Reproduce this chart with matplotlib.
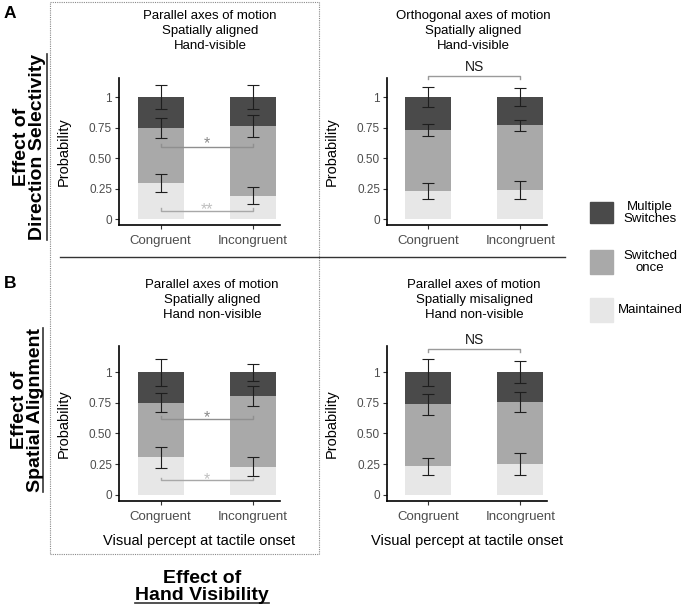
# encoding:utf-8
# stacked probability bars, 2x2 panels + side legend

import numpy as np
import matplotlib
matplotlib.use('Agg')
import matplotlib.pyplot as plt
from matplotlib.patches import Rectangle
from matplotlib.lines import Line2D

plt.rcParams['font.family'] = ['Liberation Sans', 'DejaVu Sans']

categories = ['Congruent', 'Incongruent']
legend_labels = ['Multiple\nSwitches', 'Switched\nonce', 'Maintained']
yticks = [0, 0.25, 0.5, 0.75, 1]
ytick_labels = ['0', '0.25', '0.50', '0.75', '1']

# proportions per segment (Congruent, Incongruent)
maintained_A1 = [0.295, 0.19]
once_A1 = [0.453, 0.57]
multiple_A1 = [0.252, 0.24]
err_A1 = [[0.075, 0.08, 0.10], [0.07, 0.09, 0.095]]

maintained_A2 = [0.23, 0.238]
once_A2 = [0.50, 0.53]
multiple_A2 = [0.27, 0.232]
err_A2 = [[0.067, 0.05, 0.08], [0.07, 0.047, 0.075]]

maintained_B1 = [0.305, 0.23]
once_B1 = [0.447, 0.576]
multiple_B1 = [0.248, 0.194]
err_B1 = [[0.085, 0.08, 0.11], [0.08, 0.083, 0.07]]

maintained_B2 = [0.233, 0.254]
once_B2 = [0.505, 0.503]
multiple_B2 = [0.262, 0.243]
err_B2 = [[0.07, 0.088, 0.11], [0.09, 0.078, 0.09]]

titles = ['Parallel axes of motion\nSpatially aligned\nHand-visible',
          'Orthogonal axes of motion\nSpatially aligned\nHand-visible',
          'Parallel axes of motion\nSpatially aligned\nHand non-visible',
          'Parallel axes of motion\nSpatially misaligned\nHand non-visible']

# significance: (label, y, tip, text y, line colour, text colour)
sig_A1 = [('*', 0.59, 0.025, 0.579, '#8f8f8f', '#8a8a8a'),
          ('**', 0.068, 0.022, 0.039, '#a8a8a8', '#c0c0c0')]
sig_A2 = [('NS', 1.17, -0.025, 1.25, '#9a9a9a', '#1a1a1a')]
sig_B1 = [('*', 0.62, 0.025, 0.594, '#8f8f8f', '#8a8a8a'),
          ('*', 0.117, 0.022, 0.085, '#a8a8a8', '#c0c0c0')]
sig_B2 = [('NS', 1.19, -0.025, 1.265, '#9a9a9a', '#1a1a1a')]

col_multi = '#4a4a4a'
col_once = '#a9a9a9'
col_maint = '#e7e7e7'

W, H = 685, 605
fig = plt.figure(figsize=(W / 100, H / 100), dpi=100)


def px_axes(l, t, r, b):
    return fig.add_axes([l / W, 1 - b / H, (r - l) / W, (b - t) / H])


def draw_panel(ax, maint, once, multi, err, sig, ylim, xlabel=False):
    x = np.arange(1, len(categories) + 1)
    maint = np.array(maint)
    once = np.array(once)
    multi = np.array(multi)
    ax.bar(x, maint, width=0.5, color=col_maint, edgecolor='none')
    ax.bar(x, once, bottom=maint, width=0.5, color=col_once, edgecolor='none')
    ax.bar(x, multi, bottom=maint + once, width=0.5, color=col_multi, edgecolor='none')
    tops = [maint, maint + once, maint + once + multi]
    for k in range(3):
        e = [err[i][k] for i in range(len(x))]
        ax.errorbar(x, tops[k], yerr=e, fmt='none', ecolor='#1e1e1e',
                    elinewidth=0.8, capsize=4, capthick=0.8)
    for lab, y, tip, ty, lc, tc in sig:
        ax.plot([x[0], x[0], x[1], x[1]], [y + tip, y, y, y + tip],
                color=lc, lw=1.0, clip_on=False)
        if lab == 'NS':
            ax.text(x.mean(), ty, lab, ha='center', va='center', color=tc,
                    fontsize=10, clip_on=False)
        else:
            ax.text(x.mean(), ty, lab, ha='center', va='baseline', color=tc,
                    fontsize=11.5, clip_on=False)
    ax.set_xlim(0.55, 2.29)
    ax.set_ylim(*ylim)
    ax.set_yticks(yticks)
    ax.set_yticklabels(ytick_labels)
    ax.set_xticks(x)
    ax.set_xticklabels(categories)
    for s in ['top', 'right']:
        ax.spines[s].set_visible(False)
    for s in ['left', 'bottom']:
        ax.spines[s].set_linewidth(1.2)
        ax.spines[s].set_color('black')
    ax.tick_params(axis='both', length=3, width=0.8, color='#333333',
                   labelcolor='#4d4d4d')
    ax.tick_params(axis='y', labelsize=8.5, pad=2)
    ax.tick_params(axis='x', labelsize=9.5, pad=4)
    ax.set_ylabel('Probability', fontsize=10.5, color='black')
    ax.yaxis.set_label_coords(-0.30, 0.5)
    if xlabel:
        ax.set_xlabel('Visual percept at tactile onset', fontsize=10.5, color='black')
        ax.xaxis.set_label_coords(0.5, -0.215)


axA1 = px_axes(119, 78, 280, 225)
axA2 = px_axes(387, 78, 547, 225)
axB1 = px_axes(119, 346, 280, 501)
axB2 = px_axes(387, 346, 547, 501)

draw_panel(axA1, maintained_A1, once_A1, multiple_A1, err_A1, sig_A1, (-0.049, 1.156))
draw_panel(axA2, maintained_A2, once_A2, multiple_A2, err_A2, sig_A2, (-0.049, 1.156))
draw_panel(axB1, maintained_B1, once_B1, multiple_B1, err_B1, sig_B1, (-0.052, 1.215), True)
draw_panel(axB2, maintained_B2, once_B2, multiple_B2, err_B2, sig_B2, (-0.052, 1.215), True)

# panel titles
for (cx, cy), t in zip([(210, 31), (473, 31), (212, 300), (474, 300)], titles):
    fig.text(cx / W, 1 - cy / H, t, ha='center', va='center', fontsize=9.5,
             linespacing=1.3)

# legend
for (y0, y1), c, lab in zip([(202, 223), (250, 274), (298, 322)],
                            [col_multi, col_once, col_maint], legend_labels):
    fig.patches.append(Rectangle((590 / W, 1 - y1 / H), 23 / W, (y1 - y0) / H,
                                 transform=fig.transFigure, color=c, zorder=1))
    fig.text(650 / W, 1 - ((y0 + y1) / 2) / H, lab, ha='center', va='center',
             fontsize=9.5, linespacing=1.0)

# dotted frame round the left column, divider line
fig.patches.append(Rectangle((50 / W, 1 - 554 / H), 269 / W, 552 / H,
                             transform=fig.transFigure, fill=False,
                             edgecolor='#8a8a8a', lw=0.8, ls=(0, (1, 1))))
fig.lines.append(Line2D([60 / W, 565 / W], [1 - 257 / H, 1 - 257 / H],
                        transform=fig.transFigure, color='#333333', lw=1.0))

# panel letters
fig.text(10 / W, 1 - 14 / H, 'A', ha='center', va='center', fontsize=12.5,
         fontweight='bold')
fig.text(10 / W, 1 - 283 / H, 'B', ha='center', va='center', fontsize=12.5,
         fontweight='bold')

# big effect labels (second line underlined)
under = []
kw = dict(fontsize=14, fontweight='bold', rotation=90, rotation_mode='anchor',
          ha='center', va='baseline', multialignment='center', linespacing=0.9)
under.append(('v', fig.text(43 / W, 1 - 147 / H, 'Effect of\nDirection Selectivity', **kw), 46.5))
under.append(('v', fig.text(41 / W, 1 - 410 / H, 'Effect of\nSpatial Alignment', **kw), 43.5))
kw2 = dict(fontsize=14, fontweight='bold', ha='center', va='baseline',
           multialignment='center', linespacing=1.03)
under.append(('h', fig.text(202 / W, 1 - 600 / H, 'Effect of\nHand Visibility', **kw2), 603))

fig.canvas.draw()
rend = fig.canvas.get_renderer()
for kind, t, pos in under:
    bb = t.get_window_extent(rend)
    if kind == 'v':
        fig.lines.append(Line2D([pos / W, pos / W], [bb.y0 / H, bb.y1 / H],
                                transform=fig.transFigure, color='#333333', lw=1.2))
    else:
        fig.lines.append(Line2D([bb.x0 / W, bb.x1 / W], [1 - pos / H, 1 - pos / H],
                                transform=fig.transFigure, color='#333333', lw=1.2))

fig.savefig('out.png', dpi=100)
